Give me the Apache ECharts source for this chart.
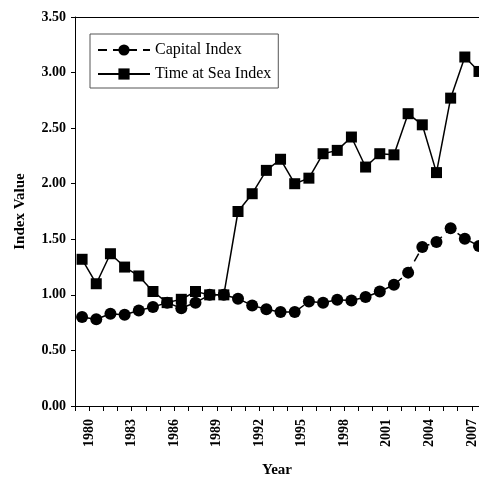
<!DOCTYPE html>
<html>
<head>
<meta charset="utf-8">
<script src="https://cdn.jsdelivr.net/npm/echarts@6/dist/echarts.min.js"></script>
<style>
  html, body { margin: 0; padding: 0; background: #fff; overflow: hidden; }
  #chart { width: 479px; height: 483px; }
</style>
</head>
<body>
<div id="chart"></div>
<script>
const years = [1979, 1980, 1981, 1982, 1983, 1984, 1985, 1986, 1987, 1988, 1989, 1990, 1991, 1992, 1993, 1994, 1995, 1996, 1997, 1998, 1999, 2000, 2001, 2002, 2003, 2004, 2005, 2006, 2007];
const capitalIndex = [0.80, 0.78, 0.83, 0.82, 0.86, 0.89, 0.93, 0.88, 0.93, 1.00, 1.00, 0.965, 0.905, 0.87, 0.845, 0.845, 0.94, 0.93, 0.955, 0.95, 0.98, 1.03, 1.09, 1.20, 1.43, 1.475, 1.60, 1.505, 1.44];
const timeAtSeaIndex = [1.32, 1.10, 1.37, 1.25, 1.17, 1.03, 0.93, 0.96, 1.03, 1.00, 1.00, 1.75, 1.91, 2.12, 2.22, 2.00, 2.05, 2.27, 2.30, 2.42, 2.15, 2.27, 2.26, 2.63, 2.53, 2.10, 2.77, 3.14, 3.01];
const xTickLabels = [1980, 1983, 1986, 1989, 1992, 1995, 1998, 2001, 2004, 2007];
const yTickValues = [0, 0.5, 1, 1.5, 2, 2.5, 3, 3.5];

// yearly values plotted at mid-year
const toPoints = vals => years.map((y, i) => [y + 0.5, vals[i]]);

const xMin = years[0];
const xMax = years[years.length - 1] + 0.5; // the reference is cropped at the last point

const font = '"Liberation Serif", "Times New Roman", serif';
const chart = echarts.init(document.getElementById('chart'), null, { renderer: 'canvas' });
chart.setOption({
  animation: false,
  backgroundColor: '#fff',
  grid: { left: 75, top: 17, right: 0, bottom: 73, show: false },
  legend: {
    orient: 'vertical',
    left: 90, top: 34,
    padding: [8, 7, 6, 7],
    itemGap: 8,
    itemWidth: 52, itemHeight: 14,
    borderColor: '#555', borderWidth: 1,
    textStyle: { fontFamily: font, fontSize: 16, color: '#000' },
    data: ['Capital Index', 'Time at Sea Index']
  },
  xAxis: [{
    type: 'value',
    min: xMin, max: xMax, interval: 1,
    name: 'Year', nameLocation: 'middle', nameGap: 57,
    nameTextStyle: { fontFamily: font, fontSize: 15, fontWeight: 'bold', color: '#000' },
    axisLine: { show: true, lineStyle: { color: '#000', width: 1 } },
    axisTick: { show: true, length: 5, lineStyle: { color: '#000' } },
    splitLine: { show: false },
    axisLabel: {
      rotate: 90, margin: 13, showMaxLabel: true,
      fontFamily: font, fontSize: 14, fontWeight: 'bold', color: '#000',
      formatter: v => xTickLabels.includes(v) ? String(v) : ''
    }
  }, {
    type: 'value', position: 'top',
    min: xMin, max: xMax, interval: 1,
    axisLine: { show: true, lineStyle: { color: '#000', width: 1 } },
    axisTick: { show: false }, axisLabel: { show: false }, splitLine: { show: false }
  }],
  yAxis: {
    type: 'value',
    min: yTickValues[0], max: yTickValues[yTickValues.length - 1], interval: 0.5,
    name: 'Index Value', nameLocation: 'middle', nameGap: 47,
    nameTextStyle: { fontFamily: font, fontSize: 15, fontWeight: 'bold', color: '#000' },
    axisLine: { show: true, lineStyle: { color: '#000', width: 1 } },
    axisTick: { show: true, length: 4, lineStyle: { color: '#000' } },
    splitLine: { show: false },
    axisLabel: {
      margin: 9,
      fontFamily: font, fontSize: 14, fontWeight: 'bold', color: '#000',
      formatter: v => v.toFixed(2)
    }
  },
  series: [
    {
      name: 'Capital Index', type: 'line',
      data: toPoints(capitalIndex),
      symbol: 'circle', symbolSize: 12,
      itemStyle: { color: '#000' },
      lineStyle: { color: '#000', width: 1.5, type: [9, 6] },
      clip: false, z: 2
    },
    {
      name: 'Time at Sea Index', type: 'line',
      data: toPoints(timeAtSeaIndex),
      symbol: 'rect', symbolSize: 11,
      itemStyle: { color: '#000' },
      lineStyle: { color: '#000', width: 1.5, type: 'solid' },
      clip: false, z: 3
    }
  ]
});
</script>
</body>
</html>
